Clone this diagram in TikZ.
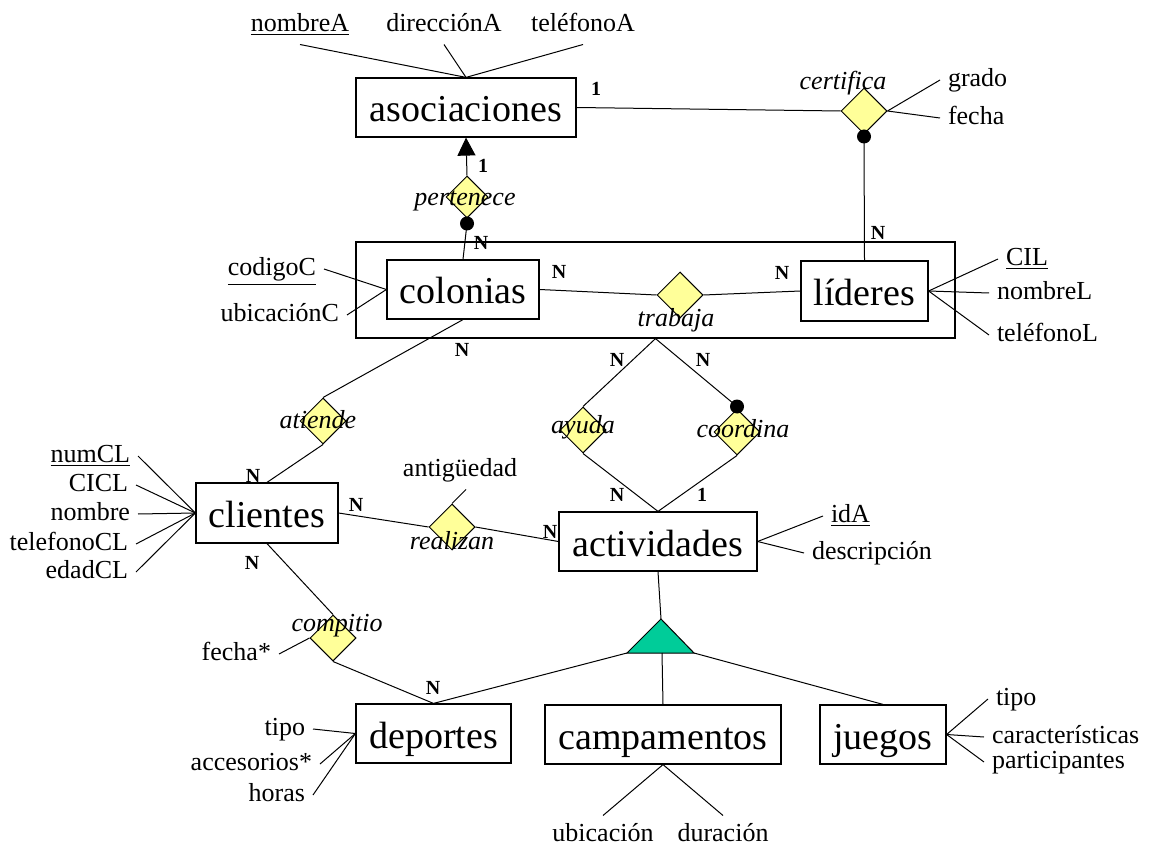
\documentclass[tikz,border=0pt]{standalone}
\usepackage{fontspec}
\setmainfont{Liberation Serif}
\usetikzlibrary{shapes.geometric,arrows.meta}
\definecolor{relfill}{RGB}{255,255,153}
\definecolor{isafill}{RGB}{0,204,153}
\begin{document}
\begin{tikzpicture}[x=0.5pt,y=-0.5pt,
  ent/.style={draw,line width=0.6pt,rectangle,inner sep=0pt,minimum height=29.5pt,
    text height=14.5pt,text depth=0pt,font=\fontsize{19}{22}\selectfont},
  rel/.style={draw,diamond,fill=relfill,inner sep=0pt,minimum width=23pt,minimum height=23pt,line width=0.5pt},
  rlabel/.style={font=\fontsize{13}{15}\selectfont\itshape,inner sep=0pt,text height=9pt,text depth=2.5pt},
  attr/.style={font=\fontsize{13}{15}\selectfont,inner sep=1pt,outer sep=3pt,text height=9pt,text depth=2.5pt},
  card/.style={font=\fontsize{10}{12}\selectfont\bfseries,inner sep=0pt},
  dot/.style={circle,fill=black,inner sep=0pt,minimum size=7pt},
  conn/.style={line width=0.5pt}
]
\useasboundingbox (0,0) rectangle (1151,845);

% entities
\node[ent,minimum width=110pt] (asoc) at (466,107.5) {asociaciones};
\node[draw,line width=0.6pt,inner sep=0pt,minimum width=299.5pt,minimum height=48pt] (agg) at (655.5,290) {};
\node[ent,minimum width=76pt] (colonias) at (463,289.5) {colonias};
\node[ent,minimum width=63.5pt,minimum height=30pt] (lideres) at (864.5,291) {líderes};
\node[ent,minimum width=71pt,minimum height=30pt] (clientes) at (267,513) {clientes};
\node[ent,minimum width=99pt] (activ) at (658,541.5) {actividades};
\node[ent,minimum width=77.5pt] (deportes) at (433.5,733.5) {deportes};
\node[ent,minimum width=118pt] (campam) at (663,734.5) {campamentos};
\node[ent,minimum width=63pt] (juegos) at (883,734.5) {juegos};

% relationships
\node[rel,minimum width=21pt,minimum height=21pt] (pert) at (467,197) {};
\node[rel] (cert) at (864,111) {};
\node[rel] (trab) at (680,295) {};
\node[rel] (atiende) at (323,421) {};
\node[rel] (realizan) at (452,527) {};
\node[rel] (compitio) at (333,638) {};
\node[rel] (ayuda) at (583,430) {};
\node[rel] (coord) at (737,432) {};

% ISA triangle
\coordinate (isaL) at (627,653);
\coordinate (isaT) at (661,619);
\coordinate (isaR) at (694,653);
\coordinate (isaB) at (662,653);
\filldraw[fill=isafill,line width=0.5pt] (isaL) -- (isaT) -- (isaR) -- cycle;

% dots
\node[dot] (dotP) at ([yshift=-2.5pt]pert.south) {};
\node[dot] (dotC) at ([yshift=-1pt]cert.south) {};
\node[dot] (dotK) at ([yshift=1pt]coord.north) {};

% connectors
\draw[conn] (asoc.east) -- (cert.west);
\draw[conn] (dotC.center) -- (lideres.north);
\draw[conn,-{Triangle[length=9pt,width=9pt]}] (pert.north) -- (asoc.south);
\draw[conn] (dotP.center) -- (colonias.north);
\draw[conn] (colonias.east) -- (trab.west);
\draw[conn] (trab.east) -- (lideres.west);
\draw[conn] (agg.south) -- (ayuda.north);
\draw[conn] (agg.south) -- (dotK.center);
\draw[conn] (ayuda.south) -- (activ.north);
\draw[conn] (coord.south) -- (activ.north);
\draw[conn] (colonias.south) -- (atiende.north);
\draw[conn] (atiende.south) -- (clientes.north);
\draw[conn] (clientes.east) -- (realizan.west);
\draw[conn] (realizan.east) -- (activ.west);
\draw[conn] (clientes.south) -- (compitio.north);
\draw[conn] (compitio.south) -- (deportes.north);
\draw[conn] (deportes.north) -- (isaL);
\draw[conn] (activ.south) -- (isaT);
\draw[conn] (isaB) -- (campam.north);
\draw[conn] (isaR) -- (juegos.north);

% relationship labels
\node[rlabel] (lpert) at (465,199) {pertenece};
\node[rlabel] (lcert) at (843,83) {certifica};
\node[rlabel] (ltrab) at (676,320) {trabaja};
\node[rlabel] (latiende) at (318,422) {atiende};
\node[rlabel] (lrealizan) at (452,543) {realizan};
\node[rlabel] (lcompitio) at (337,625) {compitio};
\node[rlabel] (layuda) at (583,427) {ayuda};
\node[rlabel] (lcoord) at (743,431) {coordina};

% attributes: asociaciones
\node[attr] (nombreA) at (300,25) {\underline{nombreA}};
\node[attr] (direccionA) at (444,25) {direcciónA};
\node[attr] (telefonoA) at (583,25) {teléfonoA};
\draw[conn] (nombreA.south) -- (asoc.north);
\draw[conn] (direccionA.south) -- (asoc.north);
\draw[conn] (telefonoA.south) -- (asoc.north);

% certifica
\node[attr,anchor=west] (grado) at (940,80) {grado};
\node[attr,anchor=west] (fechaC) at (940,118) {fecha};
\draw[conn] (grado.west) -- (cert.east);
\draw[conn] (fechaC.west) -- (cert.east);

% lideres
\node[attr,anchor=west] (CIL) at (998,259) {\underline{CIL}};
\node[attr,anchor=west] (nombreL) at (989,293) {nombreL};
\node[attr,anchor=west] (telefonoL) at (989,335) {teléfonoL};
\draw[conn] (CIL.west) -- (lideres.east);
\draw[conn] (nombreL.west) -- (lideres.east);
\draw[conn] (telefonoL.west) -- (lideres.east);

% colonias
\node[attr,anchor=east] (codigoC) at (324,269) {\underline{codigoC}};
\node[attr,anchor=east] (ubicacionC) at (347,315) {ubicaciónC};
\draw[conn] (codigoC.east) -- (colonias.west);
\draw[conn] (ubicacionC.east) -- (colonias.west);

% clientes
\node[attr,anchor=east] (numCL) at (138,456) {\underline{numCL}};
\node[attr,anchor=east] (CICL) at (136,485) {CICL};
\node[attr,anchor=east] (nombre) at (138,514) {nombre};
\node[attr,anchor=east] (telefonoCL) at (136,544) {telefonoCL};
\node[attr,anchor=east] (edadCL) at (136,572) {edadCL};
\foreach \a in {numCL,CICL,nombre,telefonoCL,edadCL}
  \draw[conn] (\a.east) -- (clientes.west);

% realizan
\node[attr] (antig) at (460,470) {antigüedad};
\draw[conn] ([xshift=3pt]antig.south) -- (realizan.north);

% actividades
\node[attr,anchor=west] (idA) at (823,516) {\underline{idA}};
\node[attr,anchor=west] (descr) at (804,553) {descripción};
\draw[conn] (idA.west) -- (activ.east);
\draw[conn] (descr.west) -- (activ.east);

% compitio
\node[attr,anchor=east] (fechaS) at (279,654) {fecha*};
\draw[conn] (fechaS.east) -- (compitio.west);

% deportes
\node[attr,anchor=east] (tipoD) at (313,729) {tipo};
\node[attr,anchor=east] (acces) at (320,764) {accesorios*};
\node[attr,anchor=east] (horas) at (313,795) {horas};
\draw[conn] (tipoD.east) -- (deportes.west);
\draw[conn] (acces.east) -- (deportes.west);
\draw[conn] (horas.east) -- (deportes.west);

% campamentos
\node[attr] (ubic) at (603,835) {ubicación};
\node[attr] (durac) at (723,835) {duración};
\draw[conn] (ubic.north) -- (campam.south);
\draw[conn] (durac.north) -- (campam.south);

% juegos
\node[attr,anchor=west] (tipoJ) at (988,699) {tipo};
\node[attr,anchor=west] (caract) at (984,737) {características};
\node[attr,anchor=west] (partic) at (984,762) {participantes};
\draw[conn] (tipoJ.west) -- (juegos.east);
\draw[conn] (caract.west) -- (juegos.east);
\draw[conn] (partic.west) -- (juegos.east);

% cardinalities
\node[card] (c1) at (596,89) {1};
\node[card] (c2) at (483,166) {1};
\node[card] (c3) at (481,243) {N};
\node[card] (c4) at (878,233) {N};
\node[card] (c5) at (559,272) {N};
\node[card] (c6) at (782,273) {N};
\node[card] (c7) at (462,350) {N};
\node[card] (c8) at (617,360) {N};
\node[card] (c9) at (703,360) {N};
\node[card] (c10) at (617,495) {N};
\node[card] (c11) at (702,495) {1};
\node[card] (c12) at (253,476) {N};
\node[card] (c13) at (356,505) {N};
\node[card] (c14) at (550,532) {N};
\node[card] (c15) at (252,563) {N};
\node[card] (c16) at (433,688) {N};
\end{tikzpicture}
\end{document}
